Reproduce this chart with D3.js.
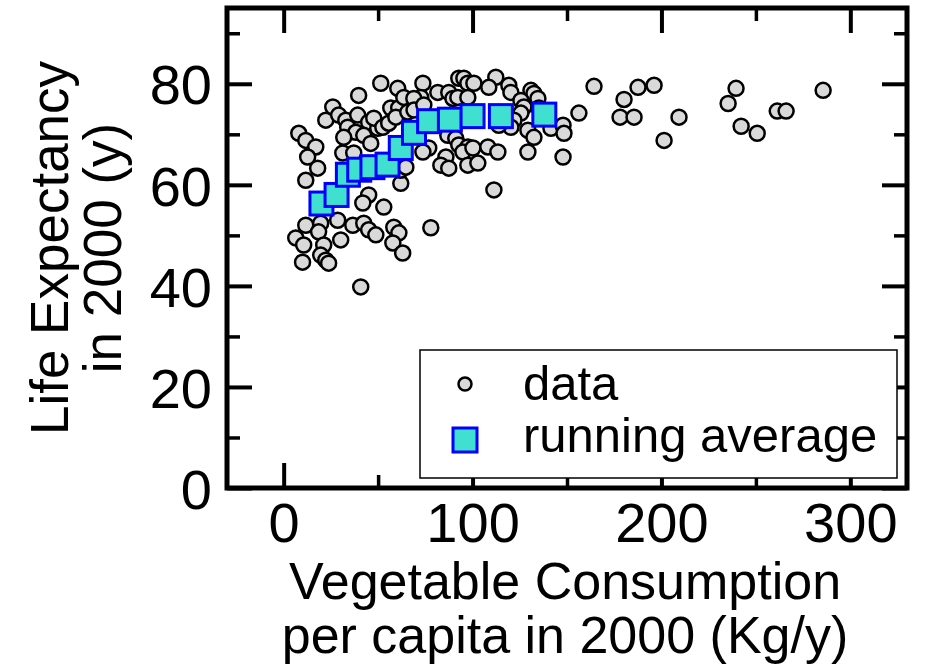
<!DOCTYPE html>
<html>
<head>
    <title>Life Expectancy vs Vegetables</title>
    <script src="https://cdnjs.cloudflare.com/ajax/libs/d3/7.8.5/d3.min.js"></script>
    <style>
        body { margin: 0; background: #fff; }
        svg text { font-family: "Liberation Sans", Arial, Helvetica, sans-serif; fill: #000; }
    </style>
</head>

<body>
    <div id="chart"></div>

    <script>
        // countries: vegetable consumption (kg/y) and life expectancy (y), year 2000
        let vegX = [
            8, 11.7, 17, 12.7, 18, 11.7, 22.3, 11.7, 19.6, 18.5, 6.4, 10.6, 10, 21.2, 19.6, 22.3, 23.8,
            51.4, 39.7, 60.4, 26, 29.1, 32.9, 39.2, 45, 49.8, 33.9, 38.2, 31.8, 42.4, 46.1, 31.3, 37.1,
            56.7, 60.9, 47.7, 52.5, 55.6, 59.4, 45, 41.9, 53, 28.6, 36.6, 42.4, 45, 48.8, 30.2, 58.3,
            61, 57.8, 63, 40.8, 62, 61.9,
            63.6, 73.7, 81.6, 87.4, 89.6, 92.7, 95.4, 97.5, 72.6, 68.9, 65.7, 69, 74.2, 92.2, 97.5,
            86.9, 91.1, 92.7, 97.5, 76.8, 73.7, 85.9, 83.2, 87.4, 94.9, 64.7, 97.5, 77.9,
            100.7, 112.3, 108.6, 119.2, 120.3, 130.9, 132.5, 125.6, 127.2, 134.6, 135.1, 125.6, 121.9,
            120.3, 113.9, 129.3, 132.5, 141.5, 147.9, 148.4, 156.3, 100.2, 108.1, 113.4, 102.8, 129.3,
            147.9, 111.3,
            164.3, 180.2, 187.6, 196.1, 178.1, 185.5, 209.3, 201.4, 239.5, 235.3, 242.2, 250.7, 261.3,
            266, 285.6
        ]
        let lifeY = [
            70.2, 68.8, 67.5, 65.5, 63.3, 60.9, 72.8, 52, 52.4, 50.7, 49.5, 48.1, 44.7, 48.1, 46.1, 45.1, 44.5,
            80.1, 77.7, 79.1, 75.4, 73.8, 72.8, 73.8, 72.4, 71.2, 71.4, 70.4, 69.4, 69.8, 68.2, 66.3, 66.3,
            75.2, 75.2, 73.2, 71.4, 72.2, 73.4, 58, 56.4, 55.6, 53, 52, 52.4, 51.1, 50.1, 49.1, 51.6,
            50.5, 48.5, 46.5, 39.8, 60.3, 62.9,
            77.3, 80.1, 78.3, 78.3, 77.1, 81.1, 81.1, 80.1, 77.3, 77.1, 74.4, 74.8, 75.8, 77.3, 77.3,
            69.8, 69.2, 67.9, 67.5, 67.3, 66.5, 65.5, 63.9, 63.3, 66.5, 63.5, 63.9, 51.5,
            80.1, 81.3, 79.3, 79.7, 78.3, 78.7, 78.1, 76.7, 75.4, 77.1, 75.2, 74.2, 72.8,
            71.4, 71.8, 70.8, 69.4, 71.2, 71.8, 70.2, 74.2, 67.3, 67.5, 66.5, 64.3, 66.5,
            65.5, 59,
            79.5, 76.9, 79.3, 79.7, 73.4, 73.4, 73.4, 68.8, 79.1, 76.1, 71.6, 70.2, 74.6,
            74.6, 78.7
        ]

        // running average
        let avgX = [20, 28, 34, 40, 47, 55, 62, 69, 77, 88, 100, 115, 138]
        let avgY = [56.3, 58, 62, 63, 63.5, 64, 67.3, 70.3, 72.6, 72.9, 73.6, 73.6, 73.9]

        let xMajor = [0, 100, 200, 300]
        let xMinor = [50, 150, 250]
        let yMajor = [0, 20, 40, 60, 80]
        let yMinor = [10, 30, 50, 70, 90]

        const W = 928, H = 670
        const MARGIN = { top: 8, right: 21, bottom: 182, left: 227 }
        let chartW = W - MARGIN.left - MARGIN.right
        let chartH = H - MARGIN.top - MARGIN.bottom

        let svg = d3.select("#chart").append("svg")
            .attr("width", W)
            .attr("height", H)

        let g = svg.append("g").attr("transform", `translate(${MARGIN.left},${MARGIN.top})`)

        let x = d3.scaleLinear().domain([-30, 330]).range([0, chartW])
        let y = d3.scaleLinear().domain([0, 95]).range([chartH, 0])

        let points = vegX.map((v, i) => ({ x: v, y: lifeY[i] }))
        let avg = avgX.map((v, i) => ({ x: v, y: avgY[i] }))

        g.selectAll("circle.pt").data(points).enter().append("circle")
            .attr("class", "pt")
            .attr("cx", d => x(d.x)).attr("cy", d => y(d.y))
            .attr("r", 7.5)
            .attr("fill", "#d9d9d9").attr("stroke", "#000").attr("stroke-width", 2.5)

        let sq = 23
        g.selectAll("rect.avg").data(avg).enter().append("rect")
            .attr("class", "avg")
            .attr("x", d => x(d.x) - sq / 2).attr("y", d => y(d.y) - sq / 2)
            .attr("width", sq).attr("height", sq)
            .attr("fill", "#40e0d0").attr("stroke", "#0000ff").attr("stroke-width", 3)

        // axes, ticks pointing in on all four sides
        function axisStyle(sel, w) {
            sel.select(".domain").remove()
            sel.selectAll(".tick line").attr("stroke", "#000").attr("stroke-width", w)
        }

        let bx = g.append("g").attr("transform", `translate(0,${chartH})`)
            .call(d3.axisBottom(x).tickValues(xMajor).tickSize(-25).tickPadding(14))
        axisStyle(bx, 4)
        bx.selectAll("text").style("font-size", "56px").attr("dy", "0.71em")
        g.append("g").attr("transform", `translate(0,${chartH})`)
            .call(d3.axisBottom(x).tickValues(xMinor).tickSize(-13).tickFormat(""))
            .call(s => axisStyle(s, 3.5))

        g.append("g").call(d3.axisTop(x).tickValues(xMajor).tickSize(-25).tickFormat(""))
            .call(s => axisStyle(s, 4))
        g.append("g").call(d3.axisTop(x).tickValues(xMinor).tickSize(-13).tickFormat(""))
            .call(s => axisStyle(s, 3.5))

        let ly = g.append("g")
            .call(d3.axisLeft(y).tickValues(yMajor).tickSize(-25).tickPadding(15))
        axisStyle(ly, 4)
        ly.selectAll("text").style("font-size", "56px").attr("dy", "0.36em")
        g.append("g").call(d3.axisLeft(y).tickValues(yMinor).tickSize(-13).tickFormat(""))
            .call(s => axisStyle(s, 3.5))

        g.append("g").attr("transform", `translate(${chartW},0)`)
            .call(d3.axisRight(y).tickValues(yMajor).tickSize(-25).tickFormat(""))
            .call(s => axisStyle(s, 4))
        g.append("g").attr("transform", `translate(${chartW},0)`)
            .call(d3.axisRight(y).tickValues(yMinor).tickSize(-13).tickFormat(""))
            .call(s => axisStyle(s, 3.5))

        g.append("rect").attr("x", 0).attr("y", 0)
            .attr("width", chartW).attr("height", chartH)
            .attr("fill", "none").attr("stroke", "#000").attr("stroke-width", 5)

        // legend
        let leg = g.append("g").attr("transform", `translate(${420 - MARGIN.left},${350 - MARGIN.top})`)
        leg.append("rect").attr("width", 477).attr("height", 128)
            .attr("fill", "#fff").attr("stroke", "#000").attr("stroke-width", 1.5)
        leg.append("circle").attr("cx", 45).attr("cy", 34).attr("r", 6.5)
            .attr("fill", "#d9d9d9").attr("stroke", "#000").attr("stroke-width", 2.5)
        leg.append("rect").attr("x", 45 - 12).attr("y", 90 - 12).attr("width", 24).attr("height", 24)
            .attr("fill", "#40e0d0").attr("stroke", "#0000ff").attr("stroke-width", 3)
        leg.append("text").attr("x", 103).attr("y", 50).style("font-size", "49px").text("data")
        leg.append("text").attr("x", 103).attr("y", 102).style("font-size", "49px").text("running average")

        // axis titles
        let xt = svg.append("text").attr("text-anchor", "middle").style("font-size", "52px")
        xt.append("tspan").attr("x", 565).attr("y", 599).text("Vegetable Consumption")
        xt.append("tspan").attr("x", 565).attr("y", 653).text("per capita in 2000 (Kg/y)")

        let yt = svg.append("text").attr("text-anchor", "middle").style("font-size", "53px")
            .attr("transform", "translate(0,248) rotate(-90)")
        yt.append("tspan").attr("x", 0).attr("y", 68).text("Life Expectancy")
        yt.append("tspan").attr("x", 0).attr("y", 121).text("in 2000 (y)")
    </script>
</body>

</html>
